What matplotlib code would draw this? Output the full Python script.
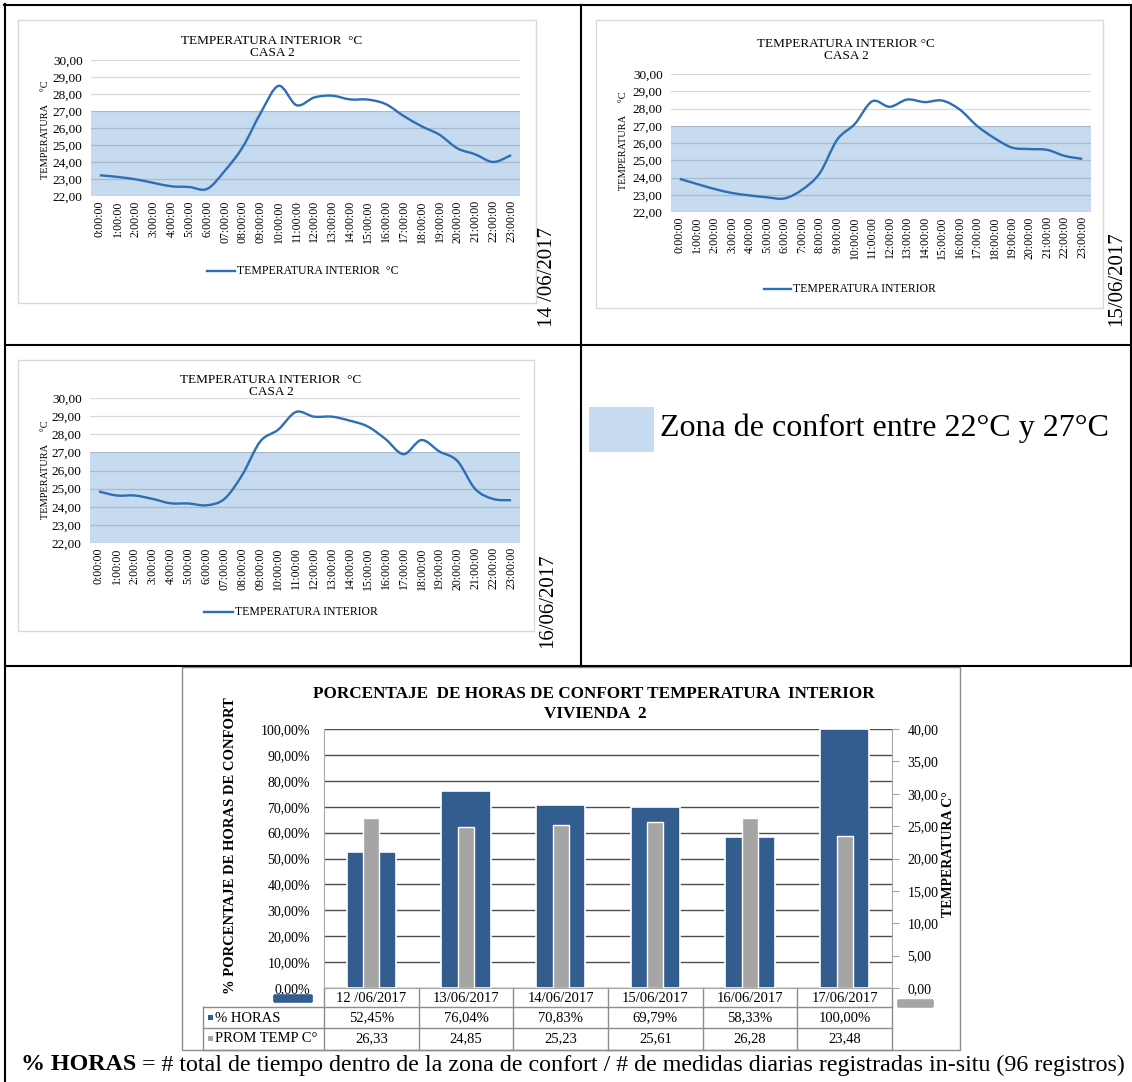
import numpy as np
import matplotlib
matplotlib.use('Agg')
import matplotlib.pyplot as plt
from matplotlib.lines import Line2D
from matplotlib.patches import Rectangle, PathPatch, FancyBboxPatch
from matplotlib.path import Path
from matplotlib.transforms import blended_transform_factory

plt.rcParams['font.family'] = ['Liberation Serif', 'DejaVu Serif']

# hourly interior temperature, one list per day
hours_lead0 = ['0:00:00', '1:00:00', '2:00:00', '3:00:00', '4:00:00', '5:00:00', '6:00:00',
               '07:00:00', '08:00:00', '09:00:00', '10:00:00', '11:00:00', '12:00:00',
               '13:00:00', '14:00:00', '15:00:00', '16:00:00', '17:00:00', '18:00:00',
               '19:00:00', '20:00:00', '21:00:00', '22:00:00', '23:00:00']
hours_plain = ['0:00:00', '1:00:00', '2:00:00', '3:00:00', '4:00:00', '5:00:00', '6:00:00',
               '7:00:00', '8:00:00', '9:00:00', '10:00:00', '11:00:00', '12:00:00',
               '13:00:00', '14:00:00', '15:00:00', '16:00:00', '17:00:00', '18:00:00',
               '19:00:00', '20:00:00', '21:00:00', '22:00:00', '23:00:00']

temp_14 = [23.22, 23.12, 22.98, 22.77, 22.57, 22.53, 22.42, 23.5, 24.9, 26.9, 28.48, 27.34,
           27.8, 27.9, 27.68, 27.67, 27.4, 26.7, 26.1, 25.6, 24.8, 24.45, 24.0, 24.4]
temp_15 = [23.92, 23.62, 23.33, 23.1, 22.96, 22.85, 22.79, 23.3, 24.25, 26.2, 27.1, 28.42,
           28.1, 28.52, 28.37, 28.46, 27.94, 26.98, 26.27, 25.73, 25.65, 25.6, 25.25, 25.08]
temp_16 = [24.84, 24.62, 24.62, 24.43, 24.19, 24.18, 24.08, 24.43, 25.76, 27.6, 28.25, 29.23,
           28.97, 28.97, 28.75, 28.43, 27.73, 26.9, 27.68, 27.05, 26.53, 24.98, 24.43, 24.36]

# summary per day
days = ['12 /06/2017', '13/06/2017', '14/06/2017', '15/06/2017', '16/06/2017', '17/06/2017']
pct_hours = [52.45, 76.04, 70.83, 69.79, 58.33, 100.00]
mean_temp = [26.33, 24.85, 25.23, 25.61, 26.28, 23.48]

W, H = 1132, 1082
LINE = '#2E6EB5'
BAND = '#C6DBEF'
BLUE = '#335D8E'
GRAY = '#A5A5A5'
TGRAY = '#8C8C8C'

fig = plt.figure(figsize=(W / 100, H / 100), dpi=100)


def fx(x):
    return x / W


def fy(y):
    return 1 - y / H


def box(x0, y0, x1, y1):
    return [fx(x0), fy(y1), (x1 - x0) / W, (y1 - y0) / H]


def hline(y, x0, x1, color='black', lw=1.5):
    fig.add_artist(Line2D([fx(x0), fx(x1)], [fy(y), fy(y)], color=color, lw=lw,
                          transform=fig.transFigure))


def vline(x, y0, y1, color='black', lw=1.5):
    fig.add_artist(Line2D([fx(x), fx(x)], [fy(y0), fy(y1)], color=color, lw=lw,
                          transform=fig.transFigure))


def frame_box(x0, y0, x1, y1, ec):
    fig.add_artist(Rectangle((fx(x0), fy(y1)), (x1 - x0) / W, (y1 - y0) / H,
                             transform=fig.transFigure, fc='white', ec=ec, lw=1, zorder=-1))


def smooth_path(xs, ys):
    pts = np.column_stack([xs, ys]).astype(float)
    n = len(pts)
    verts = [pts[0]]
    codes = [Path.MOVETO]
    for i in range(n - 1):
        p0 = pts[max(i - 1, 0)]
        p1 = pts[i]
        p2 = pts[i + 1]
        p3 = pts[min(i + 2, n - 1)]
        verts += [p1 + (p2 - p0) / 6, p2 - (p3 - p1) / 6, p2]
        codes += [Path.CURVE4] * 3
    return Path(verts, codes)


def line_chart(frame, plot, temps, hours, title_xy, title, ylab_xy, leg, leg_label, date, date_xy):
    frame_box(*frame, '#D9D9D9')
    ax = fig.add_axes(box(*plot))
    ax.patch.set_alpha(0)
    ax.axhspan(22, 27, color=BAND, lw=0, zorder=0)
    ax.add_patch(PathPatch(smooth_path(np.arange(len(temps)), temps), fill=False,
                           ec=LINE, lw=1.7, zorder=3))
    ax.set_xlim(-0.5, len(temps) - 0.5)
    ax.set_ylim(22, 30)
    ax.set_yticks(np.arange(22, 31))
    ax.set_yticklabels([f'{v:.2f}'.replace('.', ',') for v in np.arange(22, 31)], fontsize=9.5)
    ax.set_xticks(np.arange(len(temps)))
    ax.set_xticklabels(hours, rotation=90, fontsize=8.5)
    ax.tick_params(length=0, pad=3)
    ax.tick_params(axis='y', pad=6)
    ax.yaxis.grid(True, color='black', alpha=0.15, lw=0.9)
    for s in ax.spines.values():
        s.set_visible(False)
    fig.text(fx(title_xy[0]), fy(title_xy[1]), title, ha='center', va='center', fontsize=9.5,
             linespacing=1.05)
    fig.text(fx(ylab_xy[0]), fy(ylab_xy[1]), 'TEMPERATURA     \u00b0C', rotation=90,
             ha='center', va='center', fontsize=7.5)
    fig.add_artist(Line2D([fx(leg[0]), fx(leg[1])], [fy(leg[2]), fy(leg[2])], color=LINE,
                          lw=1.7, transform=fig.transFigure))
    fig.text(fx(leg[1] + 2), fy(leg[2]), leg_label, ha='left', va='center', fontsize=8.5)
    fig.text(fx(date_xy[0]), fy(date_xy[1]), date, rotation=90, ha='center', va='center',
             fontsize=15)


# outer table borders
hline(5, 4, 1132)
hline(345, 5, 1132)
hline(666, 5, 1132)
vline(5, 4, 1082)
vline(581, 5, 666)
vline(1131, 5, 666)

line_chart((18, 20, 536, 303), (91, 60, 520, 196), temp_14, hours_lead0, (272, 47),
           'TEMPERATURA INTERIOR  \u00b0C\nCASA 2', (45, 130), (207, 235, 271),
           'TEMPERATURA INTERIOR  \u00b0C', '14 /06/2017', (548, 277))
line_chart((596, 20, 1103, 308), (671, 74, 1091, 212), temp_15, hours_plain, (846, 50),
           'TEMPERATURA INTERIOR \u00b0C\nCASA 2', (624, 141), (764, 791, 289),
           'TEMPERATURA INTERIOR', '15/06/2017', (1117, 279))
line_chart((18, 360, 534, 631), (90, 398, 520, 543), temp_16, hours_lead0, (271, 386),
           'TEMPERATURA INTERIOR  \u00b0C\nCASA 2', (45, 470), (204, 233, 612),
           'TEMPERATURA INTERIOR', '16/06/2017', (548, 601))

# comfort zone key
fig.add_artist(Rectangle((fx(589), fy(452)), 65 / W, 45 / H, transform=fig.transFigure,
                         fc=BAND, ec='none'))
fig.text(fx(660), fy(428), 'Zona de confort entre 22\u00b0C y 27\u00b0C', ha='left',
         va='center', fontsize=23)

# bar chart
frame_box(182, 667, 960, 1050, TGRAY)
axb = fig.add_axes(box(324, 729, 892, 988))
axb.patch.set_alpha(0)
x = np.arange(len(days))
axb.bar(x, np.array(pct_hours) / 100, width=0.52, color=BLUE, ec='white', lw=1.2, zorder=2)
axb.set_xlim(-0.5, len(days) - 0.5)
axb.set_ylim(0, 1)
yt = np.linspace(0, 1, 11)
axb.set_yticks(yt)
axb.set_yticklabels([f'{v * 100:.2f}%'.replace('.', ',') for v in yt], fontsize=10)
axb.set_xticks(x)
axb.set_xticklabels(days, fontsize=10.5)
axb.tick_params(length=0, pad=3)
axb.tick_params(axis='y', pad=10)
axb.yaxis.grid(True, color='#4D4D4D', lw=1, zorder=1)
axb.set_axisbelow(True)
axb.spines['top'].set_visible(False)
for s in ['left', 'right', 'bottom']:
    axb.spines[s].set_color('#A6A6A6')

axt = axb.twinx()
axt.bar(x, mean_temp, width=0.17, color=GRAY, ec='white', lw=1, zorder=3)
axt.set_ylim(0, 40)
rt = np.arange(0, 41, 5)
axt.set_yticks(rt)
axt.set_yticklabels([f'{v:.2f}'.replace('.', ',') for v in rt], fontsize=10)
axt.tick_params(axis='y', length=5, color='#A6A6A6', pad=6)
for s in axt.spines.values():
    s.set_visible(False)

fig.text(fx(594), fy(694), 'PORCENTAJE  DE HORAS DE CONFORT TEMPERATURA  INTERIOR',
         ha='center', va='center', fontsize=12.3, fontweight='bold')
fig.text(fx(595), fy(714), 'VIVIENDA  2', ha='center', va='center', fontsize=12.3,
         fontweight='bold')
fig.text(fx(230), fy(846), '% PORCENTAJE DE HORAS DE CONFORT', rotation=90, ha='center',
         va='center', fontsize=10.5, fontweight='bold')
fig.text(fx(948), fy(854), 'TEMPERATURA C\u00b0', rotation=90, ha='center', va='center',
         fontsize=10, fontweight='bold')

# data table under the bars
tx = blended_transform_factory(axb.transData, fig.transFigure)
for k in range(len(days) + 1):
    axb.add_artist(Line2D([k - 0.5, k - 0.5], [fy(988), fy(1050)], color=TGRAY, lw=1,
                          transform=tx, clip_on=False))
hline(1007, 203, 892, TGRAY, 1)
hline(1028, 203, 892, TGRAY, 1)
hline(1050, 203, 892, TGRAY, 1)
vline(203, 1007, 1050, TGRAY, 1)
for k in range(len(days)):
    axb.text(k, fy(1018), f'{pct_hours[k]:.2f}%'.replace('.', ','), transform=tx,
             ha='center', va='center', fontsize=10.5)
    axb.text(k, fy(1039), f'{mean_temp[k]:.2f}'.replace('.', ','), transform=tx,
             ha='center', va='center', fontsize=10.5)
fig.add_artist(Rectangle((fx(208), fy(1020)), 5 / W, 5 / H, transform=fig.transFigure,
                         fc=BLUE, ec='none'))
fig.add_artist(Rectangle((fx(208), fy(1041)), 5 / W, 5 / H, transform=fig.transFigure,
                         fc=GRAY, ec='none'))
fig.text(fx(215), fy(1018), '% HORAS', ha='left', va='center', fontsize=10.5)
fig.text(fx(215), fy(1039), 'PROM TEMP C\u00b0', ha='left', va='center', fontsize=10.5)

# stray legend keys
fig.add_artist(FancyBboxPatch((fx(275), fy(1001)), 36 / W, 5 / H, transform=fig.transFigure,
                              boxstyle='round,pad=0.001', fc=BLUE, ec=BLUE))
fig.add_artist(FancyBboxPatch((fx(899), fy(1006)), 33 / W, 5 / H, transform=fig.transFigure,
                              boxstyle='round,pad=0.001', fc=GRAY, ec=GRAY))

# footnote
r = fig.canvas.get_renderer()
t1 = fig.text(fx(21), fy(1065), '% HORAS', ha='left', va='center', fontsize=17.3,
              fontweight='bold')
bb = t1.get_window_extent(renderer=r)
fig.text(bb.x1 / W, fy(1065), ' = # total de tiempo dentro de la zona de confort / # de medidas '
         'diarias registradas in-situ (96 registros)', ha='left', va='center', fontsize=17.3)

fig.savefig('out.png', dpi=100)
